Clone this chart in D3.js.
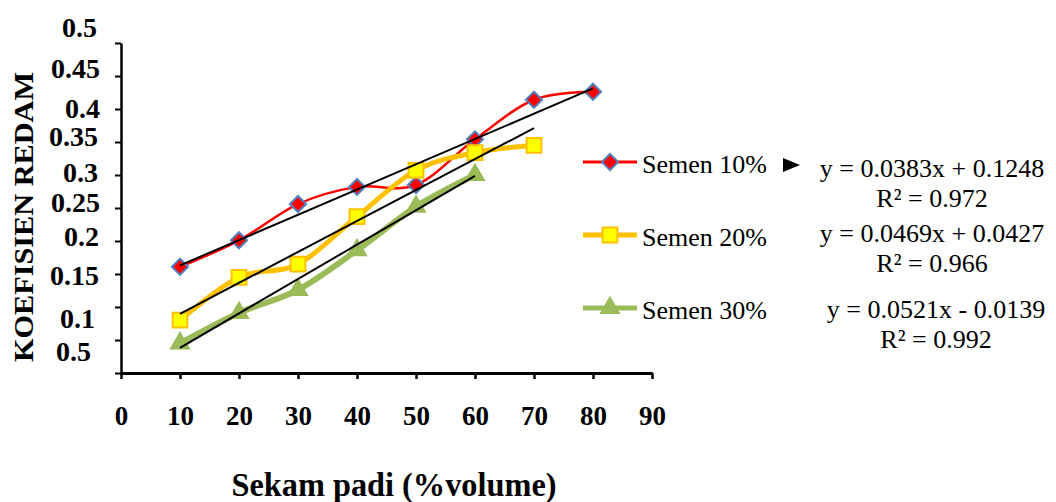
<!DOCTYPE html>
<html>
<head>
<meta charset="utf-8">
<script src="https://cdn.jsdelivr.net/npm/d3@7"></script>
<style>
  body { margin: 0; background: #fff; }
  svg { display: block; }
</style>
</head>
<body>
<div id="chart"></div>
<script>
/* global d3 */

// data
const sekam = [10, 20, 30, 40, 50, 60, 70, 80]
const semen10 = [0.161, 0.201, 0.256, 0.282, 0.285, 0.354, 0.414, 0.426]
const semen20 = [0.080, 0.145, 0.165, 0.237, 0.307, 0.334, 0.345]
const semen30 = [0.045, 0.091, 0.126, 0.186, 0.252, 0.300]
const seriesNames = ['Semen 10%', 'Semen 20%', 'Semen 30%']

// trendline coefficients (x = point number)
const slopes = [0.0383, 0.0469, 0.0521]
const intercepts = [0.1248, 0.0427, -0.0139]
const eqLabels = ['y = 0.0383x + 0.1248', 'y = 0.0469x + 0.0427', 'y = 0.0521x - 0.0139']
const r2Labels = ['R\u00b2 = 0.972', 'R\u00b2 = 0.966', 'R\u00b2 = 0.992']

// axis ticks
const xTicks = [0, 10, 20, 30, 40, 50, 60, 70, 80, 90]
const yTicks = [0, 0.05, 0.1, 0.15, 0.2, 0.25, 0.3, 0.35, 0.4, 0.45, 0.5]
const yTickLabels = ['', '0.5', '0.1', '0.15', '0.2', '0.25', '0.3', '0.35', '0.4', '0.45', '0.5']

// layout
const width = 1056,
  height = 502,
  plotLeft = 121,
  plotRight = 652,
  plotTop = 43,
  plotBottom = 373,
  serif = '"Liberation Serif", "Times New Roman", serif'

// the y labels in the picture sit a bit off their ticks
const yLabelShiftY = [0, 12, 12, 2, -4, -5, -2, -5, -0.5, -7, -15]
const yLabelShiftX = [0, -9, -5, -1, -1, 0, -2, -2, 0, 0, -3]

const colors = ['#ff0000', '#ffc000', '#9bbb59']
const lineWidths = [2.5, 5, 6]

let svg = d3.select('#chart')
  .append('svg')
  .attr('width', width)
  .attr('height', height)

const x = d3.scaleLinear().domain([0, 90]).range([plotLeft, plotRight])
const y = d3.scaleLinear().domain([0, 0.5]).range([plotBottom, plotTop])

// y axis
const yAxis = svg.append('g')
  .attr('transform', `translate(${plotLeft},0)`)
  .call(d3.axisLeft(y)
    .tickValues(yTicks)
    .tickFormat((d, i) => yTickLabels[i])
    .tickSize(6)
    .tickSizeOuter(0)
    .tickPadding(15))
yAxis.select('.domain').attr('stroke-width', 2.5)
yAxis.selectAll('.tick line').attr('stroke-width', 2)
yAxis.selectAll('.tick text')
  .style('font-family', serif)
  .style('font-size', '28px')
  .style('font-weight', 'bold')
  .attr('fill', '#000')
  .attr('transform', (d, i) => `translate(${yLabelShiftX[i]},${yLabelShiftY[i]})`)

// x axis
const xAxis = svg.append('g')
  .attr('transform', `translate(0,${plotBottom})`)
  .call(d3.axisBottom(x)
    .tickValues(xTicks)
    .tickSize(6)
    .tickSizeOuter(0)
    .tickPadding(27))
xAxis.select('.domain').attr('stroke-width', 3)
xAxis.selectAll('.tick line').attr('stroke-width', 2.5)
xAxis.selectAll('.tick text')
  .style('font-family', serif)
  .style('font-size', '27px')
  .style('font-weight', 'bold')
  .attr('fill', '#000')

// axis titles
svg.append('text')
  .attr('x', 394)
  .attr('y', 496)
  .attr('text-anchor', 'middle')
  .style('font-family', serif)
  .style('font-size', '34px')
  .style('font-weight', 'bold')
  .attr('textLength', 325)
  .attr('lengthAdjust', 'spacingAndGlyphs')
  .text('Sekam padi (%volume)')

svg.append('text')
  .attr('transform', 'translate(33,217) rotate(-90)')
  .attr('text-anchor', 'middle')
  .style('font-family', serif)
  .style('font-size', '27px')
  .style('font-weight', 'bold')
  .attr('textLength', 290)
  .attr('lengthAdjust', 'spacingAndGlyphs')
  .text('KOEFISIEN REDAM')

// series
const series = [semen10, semen20, semen30].map((vals, i) => ({
  name: seriesNames[i],
  points: vals.map((v, j) => ({ x: sekam[j], y: v }))
}))

const line = d3.line()
  .x(d => x(d.x))
  .y(d => y(d.y))
  .curve(d3.curveCardinal.tension(0))

const diamond = d3.symbol().type(d3.symbolSquare).size(130)()
const square = d3.symbol().type(d3.symbolSquare).size(220)()
const triangle = d3.symbol().type(d3.symbolTriangle).size(150)()

let drawMarker = (g, i) => {
  if (i === 0) {
    g.append('path').attr('d', diamond)
      .attr('transform', 'rotate(45)')
      .attr('fill', '#ff0000').attr('stroke', '#4f81bd').attr('stroke-width', 2)
  } else if (i === 1) {
    g.append('path').attr('d', square)
      .attr('fill', '#ffff00').attr('stroke', '#ffc000').attr('stroke-width', 2)
  } else {
    g.append('path').attr('d', triangle)
      .attr('fill', '#9bbb59').attr('stroke', '#9bbb59').attr('stroke-width', 1.5)
  }
}

series.forEach((s, i) => {
  svg.append('path')
    .datum(s.points)
    .attr('fill', 'none')
    .attr('stroke', colors[i])
    .attr('stroke-width', lineWidths[i])
    .attr('stroke-linejoin', 'round')
    .attr('d', line)
})

// markers first, trend lines drawn on top
series.forEach((s, i) => {
  svg.append('g').selectAll('g')
    .data(s.points)
    .enter()
    .append('g')
    .attr('transform', d => `translate(${x(d.x)},${y(d.y)})`)
    .each(function () { drawMarker(d3.select(this), i) })
})

series.forEach((s, i) => {
  const n = s.points.length
  const ends = [1, n].map(k => ({ x: sekam[k - 1], y: slopes[i] * k + intercepts[i] }))
  svg.append('path')
    .datum(ends)
    .attr('fill', 'none')
    .attr('stroke', '#000')
    .attr('stroke-width', 2)
    .attr('d', d3.line().x(d => x(d.x)).y(d => y(d.y)))
})

// legend
const legendY = [162, 235, 308]
series.forEach((s, i) => {
  const g = svg.append('g').attr('transform', `translate(583,${legendY[i]})`)
  g.append('line')
    .attr('x1', 0).attr('x2', 54)
    .attr('stroke', colors[i])
    .attr('stroke-width', i === 0 ? 3 : 5)
  const m = g.append('g').attr('transform', 'translate(27,0)')
  drawMarker(m, i)
  g.append('text')
    .attr('x', 59)
    .attr('y', 11)
    .style('font-family', serif)
    .style('font-size', '26px')
    .text(s.name)
})

// stray arrow marker next to the first legend entry
svg.append('path')
  .attr('d', 'M783,158 L800,165 L783,172 Z')
  .attr('fill', '#000')

// trendline equations
const eqX = [932, 932, 936]
const eqY = [177, 242, 318]
eqLabels.forEach((t, i) => {
  svg.append('text')
    .attr('x', eqX[i]).attr('y', eqY[i])
    .attr('text-anchor', 'middle')
    .style('font-family', serif)
    .style('font-size', '26px')
    .text(t)
  svg.append('text')
    .attr('x', eqX[i]).attr('y', eqY[i] + 30)
    .attr('text-anchor', 'middle')
    .style('font-family', serif)
    .style('font-size', '26px')
    .text(r2Labels[i])
})
</script>
</body>
</html>
